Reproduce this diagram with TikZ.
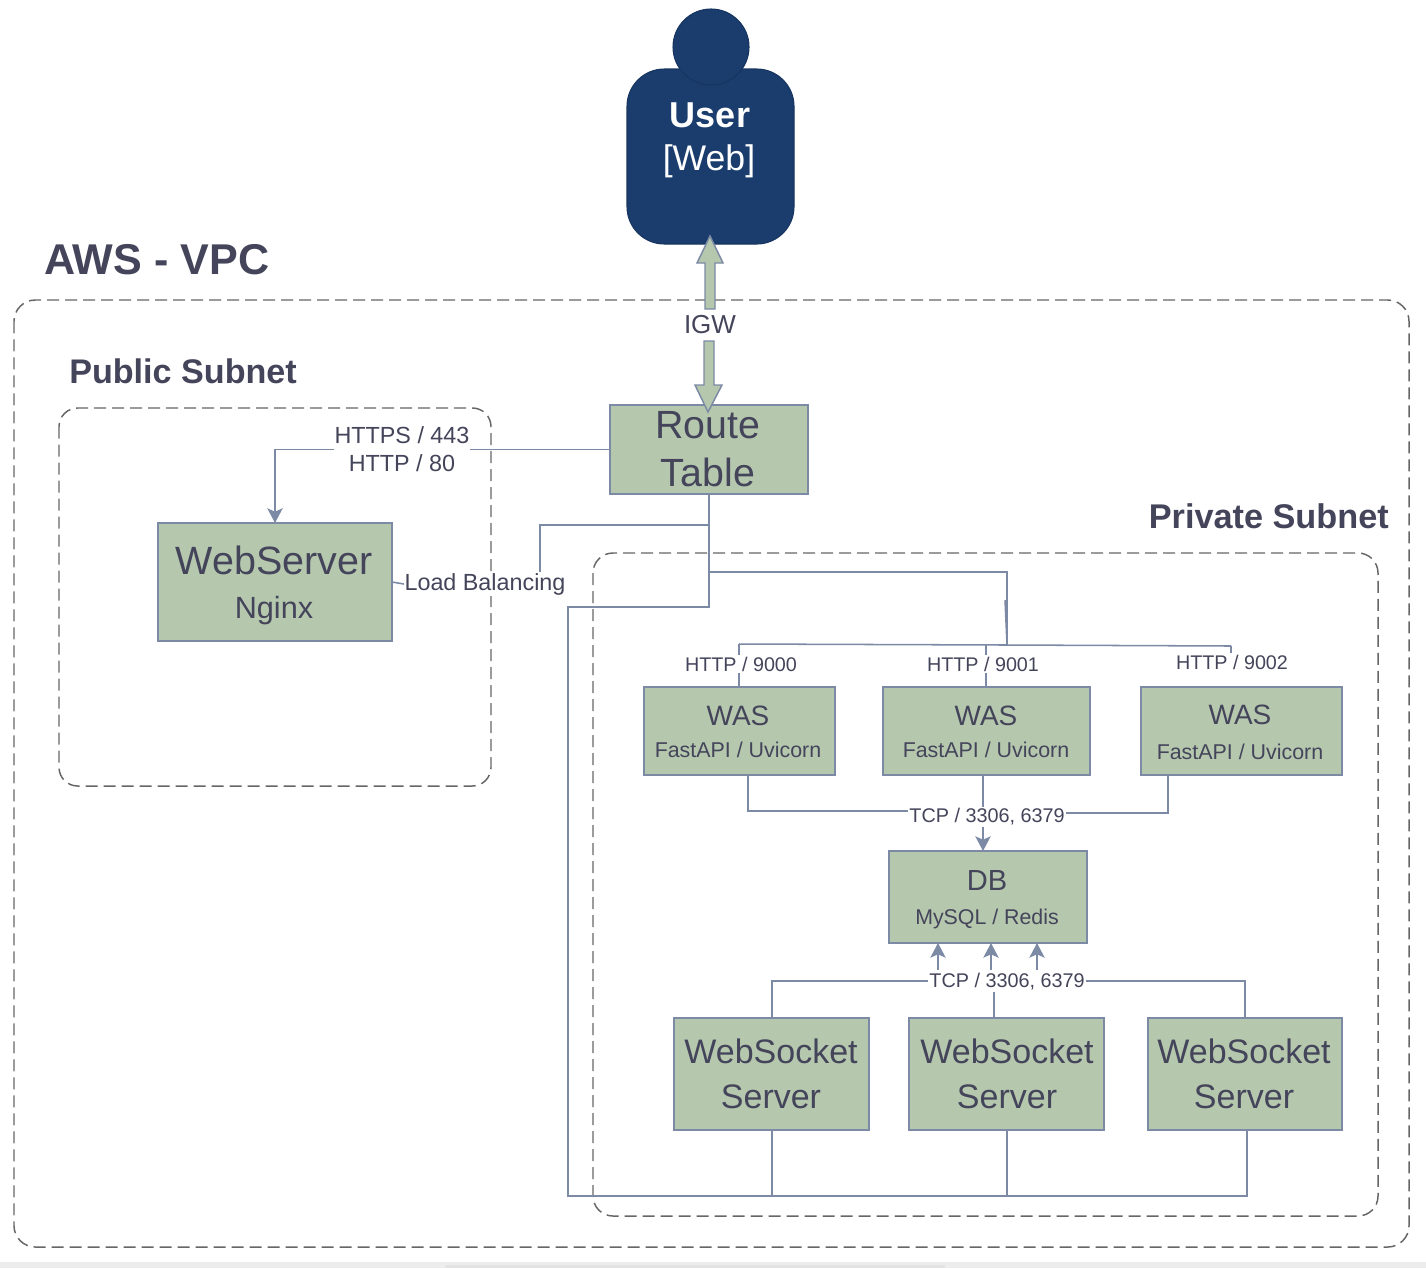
\documentclass[tikz,border=0pt]{standalone}
\usepackage{fontspec}
\setmainfont{Liberation Sans}
\usetikzlibrary{arrows.meta}
\definecolor{ink}{HTML}{44445A}
\definecolor{edgec}{HTML}{7C8AA5}
\definecolor{sage}{HTML}{B5C8AE}
\definecolor{navy}{HTML}{1A3D6E}
\definecolor{navyl}{HTML}{173560}
\definecolor{dashc}{HTML}{666666}
\newcommand\fs[1]{\fontsize{#1}{1.2\dimexpr#1pt\relax}\selectfont}
\tikzset{
  x=.75pt,y=-.75pt,
  frame/.style={draw=dashc,line width=1.1pt,dash pattern=on 9pt off 4.5pt,rounded corners=#1},
  greenbox/.style={draw=edgec,fill=sage,line width=1.5pt,inner sep=0pt,outer sep=0pt},
  boxtext/.style={text=ink,anchor=base,inner sep=0pt},
  lbl/.style={fill=white,text=ink,inner sep=1pt,outer sep=0pt,align=center},
  title/.style={text=ink,inner sep=0pt},
  conn/.style={draw=edgec,line width=1.15pt},
  arr/.style={conn,-{Stealth[length=11pt,width=11.5pt,inset=2.5pt]}}
}
\newcommand\gbox[5]{\node[greenbox,minimum width={(#4-#2)*.75pt},minimum height={(#5-#3)*.75pt}] (#1) at ({(#2+#4)/2},{(#3+#5)/2}) {};}
\newcommand\gtext[5]{\node[boxtext,font=\fs{#4}] (#1) at (#2,#3) {#5};}
\begin{document}
\begin{tikzpicture}
\useasboundingbox (0,0) rectangle (1426,1268);
% screenshot strip
\fill[black!7] (0,1262) rectangle (1426,1268);
\fill[black!11] (445,1265) rectangle (945,1268);
% frames
\draw[frame=16pt] (14,300) rectangle (1409,1247);
\draw[frame=14pt] (59,408) rectangle (491,786);
\draw[frame=15pt] (593,553) rectangle (1378,1216);
\node[title,font=\fs{32.3}\bfseries,anchor=west] (tvpc) at (44,260) {AWS - VPC};
\node[title,font=\fs{25.6}\bfseries,anchor=west] (tpub) at (69,371) {Public Subnet};
\node[title,font=\fs{25.7}\bfseries,anchor=east] (tpri) at (1389,516) {Private Subnet};
% user
\draw[fill=navy,draw=navyl,line width=.8pt,rounded corners=28pt] (627,69) rectangle (794,244);
\node[circle,fill=navy,draw=navyl,line width=.8pt,minimum size=57pt,inner sep=0pt] (head) at (711,47) {};
\node[text=white,anchor=base,inner sep=0pt,font=\fs{27}\bfseries] (user) at (710,127) {User};
\node[text=white,anchor=base,inner sep=0pt,font=\fs{26.7}] (userb) at (709,170) {[Web]};
% boxes
\gbox{route}{610}{405}{808}{494}
\gbox{web}{158}{523}{392}{641}
\gbox{wasa}{644}{687}{835}{775}
\gbox{wasb}{883}{687}{1090}{775}
\gbox{wasc}{1141}{687}{1342}{775}
\gbox{db}{889}{851}{1087}{943}
\gbox{wsa}{674}{1018}{869}{1130}
\gbox{wsb}{909}{1018}{1104}{1130}
\gbox{wsc}{1148}{1018}{1342}{1130}
% box texts
\gtext{routea}{708}{438}{29.5}{Route}
\gtext{routeb}{708}{486}{29.5}{Table}
\gtext{weba}{274}{574}{29.6}{WebServer}
\gtext{webb}{274}{618}{23}{Nginx}
\gtext{wasat}{738}{725}{21}{WAS}
\gtext{wasas}{738}{757}{16.05}{FastAPI / Uvicorn}
\gtext{wasbt}{986}{725}{21}{WAS}
\gtext{wasbs}{986}{757}{16.05}{FastAPI / Uvicorn}
\gtext{wasct}{1240}{724}{21}{WAS}
\gtext{wascs}{1240}{759}{16.05}{FastAPI / Uvicorn}
\gtext{dbt}{987}{890}{21.8}{DB}
\gtext{dbs}{987}{924}{16}{MySQL / Redis}
\gtext{wsat}{771}{1063}{25.5}{WebSocket}
\gtext{wsas}{771}{1108}{25.5}{Server}
\gtext{wsbt}{1007}{1063}{25.5}{WebSocket}
\gtext{wsbs}{1007}{1108}{25.5}{Server}
\gtext{wsct}{1244}{1063}{25.5}{WebSocket}
\gtext{wscs}{1244}{1108}{25.5}{Server}
% labels
\node[lbl,font=\fs{19.5}] (igw) at (710,325) {IGW};
\node[lbl,font=\fs{17.5},inner sep=.5pt] (https) at (402,449) {\fs{17.5}HTTPS / 443\\[.5pt]\fs{17.5}HTTP / 80};
\node[lbl,font=\fs{17.5},inner sep=.5pt] (lb) at (485,584) {Load Balancing};
\node[lbl,font=\fs{14.8}] (ha) at (741,664) {HTTP / 9000};
\node[lbl,font=\fs{14.8}] (hb) at (983,664) {HTTP / 9001};
\node[lbl,font=\fs{14.8}] (hc) at (1232,662) {HTTP / 9002};
\node[lbl,font=\fs{14.85}] (tcpa) at (987,817) {TCP / 3306, 6379};
\node[lbl,font=\fs{14.85}] (tcpb) at (1007,982) {TCP / 3306, 6379};
% junction points
\coordinate (lbturn) at (540,525);
\coordinate (stub) at (709,572);
\coordinate (stubr) at (1007,572);
\coordinate (busm) at (1007,645);
\coordinate (kink) at (1005,600);
\coordinate (busl) at (739,644);
\coordinate (busr) at (1231,646);
\coordinate (back) at (709,607);
\coordinate (backl) at (568,607);
\coordinate (backb) at (568,1196);
\coordinate (backr) at (1247,1196);
\coordinate (xwsa) at (772,1196);
\coordinate (xwsb) at (1007,1196);
\coordinate (dj) at (983,775);
\coordinate (wa) at (748,811);
\coordinate (wc) at (1168,813);
\coordinate (sa) at (772,981);
\coordinate (sc) at (1245,981);
\coordinate (sb) at (994,1018);
\coordinate (hbx) at (986,644);
\coordinate (pa) at (938,970);
\coordinate (pb) at (991,970);
\coordinate (pc) at (1037,970);
% connectors
\draw[conn] (route.west) -- (https.east |- route.west);
\draw[arr] (https.west |- route.west) -| (web.north);
\draw[conn] (web.east) -- (lb.west);
\draw[conn] (lb.north -| lbturn) -- (lbturn) -- (route.south |- lbturn);
\draw[conn] (route.south) -- (back) -- (backl) -- (backb) -- (backr) -- (wsc.south -| backr);
\draw[conn] (wsa.south -| xwsa) -- (xwsa);
\draw[conn] (wsb.south -| xwsb) -- (xwsb);
\draw[conn] (stub) -- (stubr) -- (busm);
\draw[conn] (kink) -- (busm);
\draw[conn] (busl) -- (busm) -- (busr);
\draw[conn] (busl) -- (busl |- ha.north);
\draw[conn] (busl |- ha.south) -- (busl |- wasa.north);
\draw[conn] (hbx |- hb.north) -- (hbx);
\draw[conn] (hbx |- hb.south) -- (hbx |- wasb.north);
\draw[conn] (busr) -- (busr |- hc.north);
\draw[conn] (wasa.south -| wa) -- (wa) -- (tcpa.west |- wa);
\draw[conn] (wasc.south -| wc) -- (wc) -- (tcpa.east |- wc);
\draw[conn] (wasb.south -| dj) -- (tcpa.north -| dj);
\draw[arr] (tcpa.south -| dj) -- (db.north -| dj);
\draw[arr] (pa) -- (db.south -| pa);
\draw[arr] (pb) -- (db.south -| pb);
\draw[arr] (pc) -- (db.south -| pc);
\draw[conn] (wsa.north -| sa) -- (sa) -- (tcpb.west |- sa);
\draw[conn] (wsc.north -| sc) -- (sc) -- (tcpb.east |- sc);
\draw[conn] (wsb.north -| sb) -- (tcpb.south -| sb);
% IGW double arrow
\coordinate (igwt) at (710,236);
\coordinate (igwb) at (708,412);
\draw[draw=edgec,fill=sage,line width=1.1pt,line join=miter]
  (igwt) -- (723,263) -- (715,263) -- (715,309) -- (705,309) -- (705,263) -- (697,263) -- cycle;
\draw[draw=edgec,fill=sage,line width=1.1pt,line join=miter]
  (704,341) -- (714,341) -- (714,385) -- (722,385) -- (igwb) -- (695,385) -- (704,385) -- cycle;
\end{tikzpicture}
\end{document}
